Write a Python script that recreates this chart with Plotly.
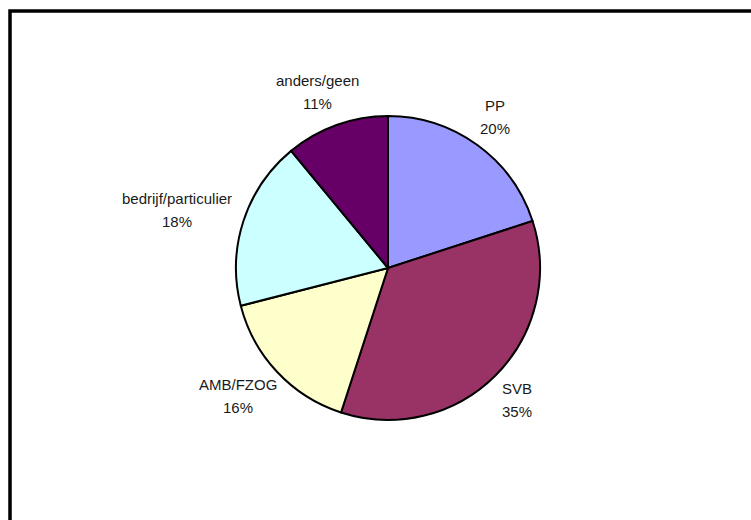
import math
import plotly.graph_objects as go

labels = ["PP", "SVB", "AMB/FZOG", "bedrijf/particulier", "anders/geen"]
values = [20, 35, 16, 18, 11]
colors = ["#9999FF", "#993366", "#FFFFCC", "#CCFFFF", "#660066"]

W, H = 751, 520
cx, cy, r = 388, 268, 152
FONT = "Liberation Sans, Arial, sans-serif"
FS = 15
TXT = "#1a1a1a"

# approximate Arial advance widths (per 1000 em) used to size label boxes
_AW = {c: 556 for c in "abdeghnopqu0123456789"}
_AW.update({c: 500 for c in "cksvxyzJ"})
_AW.update({"f": 278, "t": 278, "/": 278, " ": 278, "I": 278, "i": 222, "j": 222, "l": 222,
            "r": 333, "m": 833, "w": 722, "%": 889, "A": 667, "B": 667, "E": 667, "K": 667,
            "P": 667, "S": 667, "V": 667, "X": 667, "Y": 667, "C": 722, "D": 722, "H": 722,
            "N": 722, "R": 722, "U": 722, "F": 611, "T": 611, "Z": 611, "G": 778, "O": 778,
            "Q": 778, "M": 833, "L": 556, "W": 944})


def text_w(s):
    return sum(_AW.get(ch, 556) for ch in s) * FS / 1000.0


fig = go.Figure(go.Pie(
    labels=labels,
    values=values,
    sort=False,
    direction="clockwise",
    rotation=0,
    marker=dict(colors=colors, line=dict(color="black", width=2)),
    textinfo="none",
    showlegend=False,
    hoverinfo="label+percent",
    domain=dict(x=[(cx - r) / W, (cx + r) / W], y=[(H - cy - r) / H, (H - cy + r) / H]),
))

# data labels placed outside each slice, derived from the values
total = sum(values)
cum = 0.0
gap, half_h, line_sp = 15, 20, 23
for lab, v in zip(labels, values):
    mid = (cum + v / 2) / total * 2 * math.pi
    cum += v
    pct = f"{round(v / total * 100)}%"
    s, c = math.sin(mid), math.cos(mid)
    R = r + gap
    ax_, ay_ = cx + R * s, cy - R * c
    w = max(text_w(lab), text_w(pct))
    bx, by = ax_ + s * w / 2, ay_ - c * half_h
    for txt, dy in ((lab, -line_sp / 2), (pct, line_sp / 2)):
        fig.add_annotation(x=bx / W, y=1 - (by + dy) / H, xref="paper", yref="paper",
                           text=txt, showarrow=False, xanchor="center", yanchor="middle",
                           font=dict(family=FONT, size=FS, color=TXT))

fig.add_shape(type="rect", xref="paper", yref="paper",
              x0=10 / W, x1=(W + 20) / W, y0=-20 / H, y1=(H - 11) / H,
              line=dict(color="black", width=3.5), fillcolor="rgba(0,0,0,0)")

fig.update_layout(
    width=W, height=H,
    margin=dict(l=0, r=0, t=0, b=0),
    paper_bgcolor="white", plot_bgcolor="white",
    font=dict(family=FONT, size=FS, color=TXT),
)

fig.write_html("out.html")
